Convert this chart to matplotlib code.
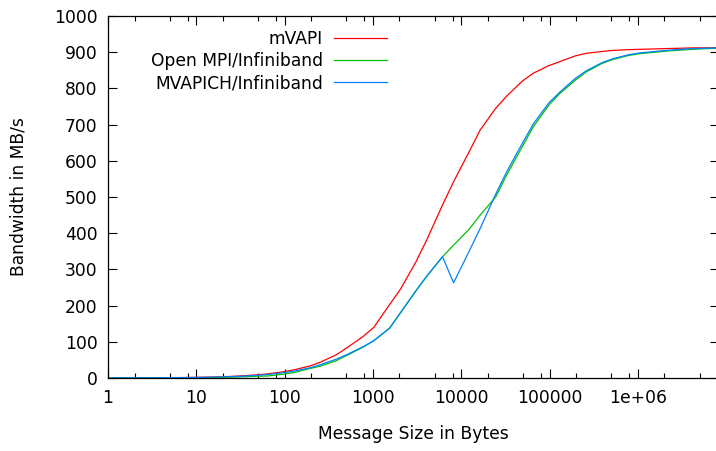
import matplotlib
matplotlib.use("Agg")
import matplotlib.pyplot as plt
from matplotlib.ticker import FixedLocator, FixedFormatter, NullFormatter

# ---- data (message size in bytes, bandwidth in MB/s) ----
sizes = [1, 2, 3, 4, 6, 8, 12, 16, 24, 32, 48, 64, 96, 128, 192, 256, 384, 512,
         768, 1024, 1536, 2048, 3072, 4096, 6144, 8192, 12288, 16384, 24576,
         32768, 49152, 65536, 98304, 131072, 196608, 262144, 393216, 524288,
         786432, 1048576, 1572864, 2097152, 3145728, 4194304, 6291456, 8388608]

mvapi = [0.18, 0.36, 0.55, 0.73, 1.1, 1.45, 2.2, 2.9, 4.3, 5.8, 8.6, 11.4, 17,
         22.5, 33, 44, 64, 84, 114, 140, 202, 245, 321, 383, 478, 542, 625, 685,
         745, 779, 820, 842, 863, 874, 890, 897, 902, 905, 907, 908, 909, 910,
         911, 912, 912, 913]

openmpi = [0.1, 0.2, 0.3, 0.4, 0.6, 0.8, 1.2, 1.6, 2.4, 3.2, 4.8, 5.5, 10.5, 15,
           26, 33, 48, 63, 85, 103, 137, 180, 241, 282, 335, 367, 411, 450, 500,
           561, 639, 694, 754, 786, 823, 846, 869, 880, 891, 896, 900, 903, 906,
           908, 910, 911]

mvapich = [0.15, 0.3, 0.45, 0.6, 0.9, 1.2, 1.8, 2.4, 3.6, 4.8, 7.2, 9.6, 14.5,
           19, 28, 37, 52, 65, 86, 103, 137, 180, 241, 282, 335, 263, 350, 413,
           508, 570, 648, 702, 760, 790, 828, 849, 871, 882, 893, 898, 902, 905,
           908, 910, 911, 912]

series_names = ["mVAPI", "Open MPI/Infiniband", "MVAPICH/Infiniband"]
series_colors = ["#ff0000", "#00c000", "#0080ff"]

xtick_vals = [1, 10, 100, 1000, 10000, 100000, 1000000]
xtick_labels = ["1", "10", "100", "1000", "10000", "100000", "1e+06"]
ytick_vals = list(range(0, 1001, 100))

# ---- figure ----
W, H = 716, 451
fig = plt.figure(figsize=(W / 100, H / 100), dpi=100)
plt.rcParams['font.family'] = ['DejaVu Sans']
FS = 12.3

left_px, right_px, top_px, bottom_px = 108, 719.4, 16, 378
ax = fig.add_axes([left_px / W, (H - bottom_px) / H,
                   (right_px - left_px) / W, (bottom_px - top_px) / H])

for vals, name, col in zip([mvapi, openmpi, mvapich], series_names, series_colors):
    ax.plot(sizes, vals, color=col, lw=0.9, label=name)

ax.set_xscale('log')
ax.set_xlim(1, 8388608)
ax.set_ylim(0, 1000)

ax.xaxis.set_major_locator(FixedLocator(xtick_vals))
ax.xaxis.set_major_formatter(FixedFormatter(xtick_labels))
minor = [m * 10 ** e for e in range(0, 7) for m in (2, 5, 8)]
ax.xaxis.set_minor_locator(FixedLocator(minor))
ax.xaxis.set_minor_formatter(NullFormatter())
ax.set_yticks(ytick_vals)

ax.tick_params(which='both', direction='in', top=True, right=True,
               width=0.8, colors='black', labelsize=FS)
ax.tick_params(which='major', length=6.5)
ax.tick_params(which='minor', length=3.6)
ax.tick_params(axis='x', which='major', pad=8.0)
ax.tick_params(axis='y', which='major', pad=7.5)

for s in ax.spines.values():
    s.set_linewidth(0.9)
    s.set_color('black')

ax.set_xlabel("Message Size in Bytes", fontsize=FS, va='center')
ax.xaxis.set_label_coords(0.5, (bottom_px - 434) / (bottom_px - top_px))
ax.set_ylabel("Bandwidth in MB/s", fontsize=FS, va='center')
ax.yaxis.set_label_coords((18.5 - left_px) / (right_px - left_px), 0.5)

leg = ax.legend(loc='upper right',
                bbox_to_anchor=((387 - left_px) / (right_px - left_px),
                                1 - (29.5 - top_px) / (bottom_px - top_px)),
                frameon=False, markerfirst=False, fontsize=FS,
                handlelength=3.1, handletextpad=0.66, labelspacing=0.26,
                borderpad=0, borderaxespad=0)
for t in leg.get_texts():
    t.set_ha('right')

fig.savefig("out.png", dpi=100)
